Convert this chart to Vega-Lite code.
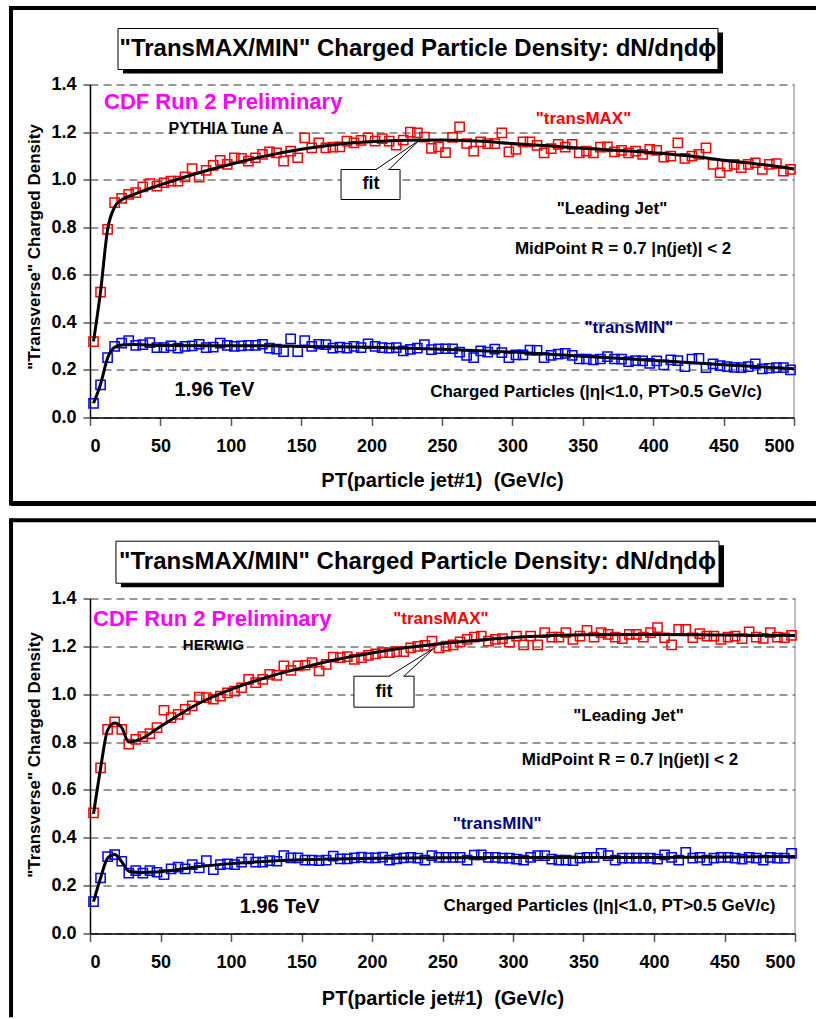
{
  "$schema": "https://vega.github.io/schema/vega-lite/v6.json",
  "autosize": {"type": "pad"},
  "padding": {"left": 8, "top": 4.5, "right": 0, "bottom": 0},
  "background": "white",
  "config": {
    "view": {"stroke": null},
    "font": "Liberation Sans",
    "text": {"font": "Liberation Sans", "fontWeight": "bold"},
    "axis": {
      "labelFont": "Liberation Sans", "labelFontWeight": "bold", "labelFontSize": 18, "labelColor": "black",
      "titleFont": "Liberation Sans", "titleFontWeight": "bold", "titleColor": "black",
      "domainColor": "black", "domainWidth": 1.5, "tickColor": "#555", "tickWidth": 1.5
    }
  },
  "datasets": {
    "pythia": [
      {"pt":2.5,"density":0.319,"series":"transMAX"},{"pt":7.5,"density":0.527,"series":"transMAX"},{"pt":12.5,"density":0.791,"series":"transMAX"},{"pt":17.5,"density":0.903,"series":"transMAX"},{"pt":22.5,"density":0.921,"series":"transMAX"},{"pt":27.5,"density":0.938,"series":"transMAX"},{"pt":32.5,"density":0.945,"series":"transMAX"},{"pt":37.5,"density":0.970,"series":"transMAX"},{"pt":42.5,"density":0.983,"series":"transMAX"},{"pt":47.5,"density":0.973,"series":"transMAX"},
      {"pt":52.5,"density":0.987,"series":"transMAX"},{"pt":57.5,"density":0.994,"series":"transMAX"},{"pt":62.5,"density":0.994,"series":"transMAX"},{"pt":67.5,"density":1.012,"series":"transMAX"},{"pt":72.5,"density":1.046,"series":"transMAX"},{"pt":77.5,"density":1.011,"series":"transMAX"},{"pt":82.5,"density":1.039,"series":"transMAX"},{"pt":87.5,"density":1.060,"series":"transMAX"},{"pt":92.5,"density":1.081,"series":"transMAX"},{"pt":97.5,"density":1.064,"series":"transMAX"},
      {"pt":102.5,"density":1.092,"series":"transMAX"},{"pt":107.5,"density":1.089,"series":"transMAX"},{"pt":112.5,"density":1.078,"series":"transMAX"},{"pt":117.5,"density":1.092,"series":"transMAX"},{"pt":122.5,"density":1.106,"series":"transMAX"},{"pt":127.5,"density":1.117,"series":"transMAX"},{"pt":132.5,"density":1.113,"series":"transMAX"},{"pt":137.5,"density":1.078,"series":"transMAX"},{"pt":142.5,"density":1.120,"series":"transMAX"},{"pt":147.5,"density":1.092,"series":"transMAX"},
      {"pt":152.5,"density":1.176,"series":"transMAX"},{"pt":157.5,"density":1.134,"series":"transMAX"},{"pt":162.5,"density":1.155,"series":"transMAX"},{"pt":167.5,"density":1.134,"series":"transMAX"},{"pt":172.5,"density":1.137,"series":"transMAX"},{"pt":177.5,"density":1.138,"series":"transMAX"},{"pt":182.5,"density":1.162,"series":"transMAX"},{"pt":187.5,"density":1.155,"series":"transMAX"},{"pt":192.5,"density":1.165,"series":"transMAX"},{"pt":197.5,"density":1.176,"series":"transMAX"},
      {"pt":202.5,"density":1.162,"series":"transMAX"},{"pt":207.5,"density":1.172,"series":"transMAX"},{"pt":212.5,"density":1.162,"series":"transMAX"},{"pt":217.5,"density":1.145,"series":"transMAX"},{"pt":222.5,"density":1.166,"series":"transMAX"},{"pt":227.5,"density":1.200,"series":"transMAX"},{"pt":232.5,"density":1.197,"series":"transMAX"},{"pt":237.5,"density":1.179,"series":"transMAX"},{"pt":242.5,"density":1.131,"series":"transMAX"},{"pt":247.5,"density":1.138,"series":"transMAX"},
      {"pt":252.5,"density":1.114,"series":"transMAX"},{"pt":257.5,"density":1.178,"series":"transMAX"},{"pt":262.5,"density":1.222,"series":"transMAX"},{"pt":267.5,"density":1.152,"series":"transMAX"},{"pt":272.5,"density":1.120,"series":"transMAX"},{"pt":277.5,"density":1.159,"series":"transMAX"},{"pt":282.5,"density":1.151,"series":"transMAX"},{"pt":287.5,"density":1.151,"series":"transMAX"},{"pt":292.5,"density":1.197,"series":"transMAX"},{"pt":297.5,"density":1.117,"series":"transMAX"},
      {"pt":302.5,"density":1.127,"series":"transMAX"},{"pt":307.5,"density":1.159,"series":"transMAX"},{"pt":312.5,"density":1.159,"series":"transMAX"},{"pt":317.5,"density":1.144,"series":"transMAX"},{"pt":322.5,"density":1.113,"series":"transMAX"},{"pt":327.5,"density":1.130,"series":"transMAX"},{"pt":332.5,"density":1.148,"series":"transMAX"},{"pt":337.5,"density":1.137,"series":"transMAX"},{"pt":342.5,"density":1.148,"series":"transMAX"},{"pt":347.5,"density":1.113,"series":"transMAX"},
      {"pt":352.5,"density":1.120,"series":"transMAX"},{"pt":357.5,"density":1.113,"series":"transMAX"},{"pt":362.5,"density":1.137,"series":"transMAX"},{"pt":367.5,"density":1.138,"series":"transMAX"},{"pt":372.5,"density":1.117,"series":"transMAX"},{"pt":377.5,"density":1.123,"series":"transMAX"},{"pt":382.5,"density":1.113,"series":"transMAX"},{"pt":387.5,"density":1.120,"series":"transMAX"},{"pt":392.5,"density":1.106,"series":"transMAX"},{"pt":397.5,"density":1.127,"series":"transMAX"},
      {"pt":402.5,"density":1.123,"series":"transMAX"},{"pt":407.5,"density":1.095,"series":"transMAX"},{"pt":412.5,"density":1.099,"series":"transMAX"},{"pt":417.5,"density":1.155,"series":"transMAX"},{"pt":422.5,"density":1.089,"series":"transMAX"},{"pt":427.5,"density":1.099,"series":"transMAX"},{"pt":432.5,"density":1.106,"series":"transMAX"},{"pt":437.5,"density":1.134,"series":"transMAX"},{"pt":442.5,"density":1.064,"series":"transMAX"},{"pt":447.5,"density":1.029,"series":"transMAX"},
      {"pt":452.5,"density":1.057,"series":"transMAX"},{"pt":457.5,"density":1.064,"series":"transMAX"},{"pt":462.5,"density":1.050,"series":"transMAX"},{"pt":467.5,"density":1.064,"series":"transMAX"},{"pt":472.5,"density":1.071,"series":"transMAX"},{"pt":477.5,"density":1.043,"series":"transMAX"},{"pt":482.5,"density":1.064,"series":"transMAX"},{"pt":487.5,"density":1.067,"series":"transMAX"},{"pt":492.5,"density":1.036,"series":"transMAX"},{"pt":497.5,"density":1.043,"series":"transMAX"},

      {"pt":2.5,"density":0.059,"series":"transMIN"},{"pt":7.5,"density":0.137,"series":"transMIN"},{"pt":12.5,"density":0.252,"series":"transMIN"},{"pt":17.5,"density":0.299,"series":"transMIN"},{"pt":22.5,"density":0.313,"series":"transMIN"},{"pt":27.5,"density":0.323,"series":"transMIN"},{"pt":32.5,"density":0.303,"series":"transMIN"},{"pt":37.5,"density":0.306,"series":"transMIN"},{"pt":42.5,"density":0.315,"series":"transMIN"},{"pt":47.5,"density":0.294,"series":"transMIN"},
      {"pt":52.5,"density":0.294,"series":"transMIN"},{"pt":57.5,"density":0.301,"series":"transMIN"},{"pt":62.5,"density":0.292,"series":"transMIN"},{"pt":67.5,"density":0.299,"series":"transMIN"},{"pt":72.5,"density":0.301,"series":"transMIN"},{"pt":77.5,"density":0.308,"series":"transMIN"},{"pt":82.5,"density":0.294,"series":"transMIN"},{"pt":87.5,"density":0.296,"series":"transMIN"},{"pt":92.5,"density":0.313,"series":"transMIN"},{"pt":97.5,"density":0.303,"series":"transMIN"},
      {"pt":102.5,"density":0.299,"series":"transMIN"},{"pt":107.5,"density":0.301,"series":"transMIN"},{"pt":112.5,"density":0.303,"series":"transMIN"},{"pt":117.5,"density":0.303,"series":"transMIN"},{"pt":122.5,"density":0.308,"series":"transMIN"},{"pt":127.5,"density":0.292,"series":"transMIN"},{"pt":132.5,"density":0.287,"series":"transMIN"},{"pt":137.5,"density":0.277,"series":"transMIN"},{"pt":142.5,"density":0.331,"series":"transMIN"},{"pt":147.5,"density":0.277,"series":"transMIN"},
      {"pt":152.5,"density":0.323,"series":"transMIN"},{"pt":157.5,"density":0.299,"series":"transMIN"},{"pt":162.5,"density":0.308,"series":"transMIN"},{"pt":167.5,"density":0.306,"series":"transMIN"},{"pt":172.5,"density":0.292,"series":"transMIN"},{"pt":177.5,"density":0.296,"series":"transMIN"},{"pt":182.5,"density":0.292,"series":"transMIN"},{"pt":187.5,"density":0.299,"series":"transMIN"},{"pt":192.5,"density":0.294,"series":"transMIN"},{"pt":197.5,"density":0.310,"series":"transMIN"},
      {"pt":202.5,"density":0.299,"series":"transMIN"},{"pt":207.5,"density":0.294,"series":"transMIN"},{"pt":212.5,"density":0.292,"series":"transMIN"},{"pt":217.5,"density":0.294,"series":"transMIN"},{"pt":222.5,"density":0.280,"series":"transMIN"},{"pt":227.5,"density":0.286,"series":"transMIN"},{"pt":232.5,"density":0.292,"series":"transMIN"},{"pt":237.5,"density":0.306,"series":"transMIN"},{"pt":242.5,"density":0.285,"series":"transMIN"},{"pt":247.5,"density":0.289,"series":"transMIN"},
      {"pt":252.5,"density":0.289,"series":"transMIN"},{"pt":257.5,"density":0.289,"series":"transMIN"},{"pt":262.5,"density":0.275,"series":"transMIN"},{"pt":267.5,"density":0.261,"series":"transMIN"},{"pt":272.5,"density":0.252,"series":"transMIN"},{"pt":277.5,"density":0.280,"series":"transMIN"},{"pt":282.5,"density":0.275,"series":"transMIN"},{"pt":287.5,"density":0.287,"series":"transMIN"},{"pt":292.5,"density":0.273,"series":"transMIN"},{"pt":297.5,"density":0.252,"series":"transMIN"},
      {"pt":302.5,"density":0.263,"series":"transMIN"},{"pt":307.5,"density":0.263,"series":"transMIN"},{"pt":312.5,"density":0.283,"series":"transMIN"},{"pt":317.5,"density":0.282,"series":"transMIN"},{"pt":322.5,"density":0.252,"series":"transMIN"},{"pt":327.5,"density":0.261,"series":"transMIN"},{"pt":332.5,"density":0.266,"series":"transMIN"},{"pt":337.5,"density":0.270,"series":"transMIN"},{"pt":342.5,"density":0.261,"series":"transMIN"},{"pt":347.5,"density":0.246,"series":"transMIN"},
      {"pt":352.5,"density":0.246,"series":"transMIN"},{"pt":357.5,"density":0.242,"series":"transMIN"},{"pt":362.5,"density":0.246,"series":"transMIN"},{"pt":367.5,"density":0.256,"series":"transMIN"},{"pt":372.5,"density":0.246,"series":"transMIN"},{"pt":377.5,"density":0.245,"series":"transMIN"},{"pt":382.5,"density":0.235,"series":"transMIN"},{"pt":387.5,"density":0.239,"series":"transMIN"},{"pt":392.5,"density":0.238,"series":"transMIN"},{"pt":397.5,"density":0.228,"series":"transMIN"},
      {"pt":402.5,"density":0.238,"series":"transMIN"},{"pt":407.5,"density":0.221,"series":"transMIN"},{"pt":412.5,"density":0.242,"series":"transMIN"},{"pt":417.5,"density":0.239,"series":"transMIN"},{"pt":422.5,"density":0.214,"series":"transMIN"},{"pt":427.5,"density":0.246,"series":"transMIN"},{"pt":432.5,"density":0.249,"series":"transMIN"},{"pt":437.5,"density":0.210,"series":"transMIN"},{"pt":442.5,"density":0.225,"series":"transMIN"},{"pt":447.5,"density":0.218,"series":"transMIN"},
      {"pt":452.5,"density":0.214,"series":"transMIN"},{"pt":457.5,"density":0.211,"series":"transMIN"},{"pt":462.5,"density":0.210,"series":"transMIN"},{"pt":467.5,"density":0.214,"series":"transMIN"},{"pt":472.5,"density":0.225,"series":"transMIN"},{"pt":477.5,"density":0.204,"series":"transMIN"},{"pt":482.5,"density":0.207,"series":"transMIN"},{"pt":487.5,"density":0.210,"series":"transMIN"},{"pt":492.5,"density":0.210,"series":"transMIN"},{"pt":497.5,"density":0.200,"series":"transMIN"}
    ],
    "pythiaFit": [
      {"pt":2.5,"density":0.32,"series":"transMAX"},{"pt":7.5,"density":0.53,"series":"transMAX"},{"pt":12.5,"density":0.79,"series":"transMAX"},{"pt":17.5,"density":0.885,"series":"transMAX"},{"pt":22.5,"density":0.915,"series":"transMAX"},{"pt":30,"density":0.935,"series":"transMAX"},{"pt":40,"density":0.958,"series":"transMAX"},{"pt":50,"density":0.978,"series":"transMAX"},{"pt":75,"density":1.025,"series":"transMAX"},{"pt":100,"density":1.065,"series":"transMAX"},{"pt":125,"density":1.1,"series":"transMAX"},{"pt":150,"density":1.128,"series":"transMAX"},{"pt":175,"density":1.148,"series":"transMAX"},{"pt":200,"density":1.16,"series":"transMAX"},{"pt":225,"density":1.166,"series":"transMAX"},{"pt":250,"density":1.167,"series":"transMAX"},{"pt":275,"density":1.162,"series":"transMAX"},{"pt":300,"density":1.152,"series":"transMAX"},{"pt":325,"density":1.142,"series":"transMAX"},{"pt":350,"density":1.132,"series":"transMAX"},{"pt":375,"density":1.123,"series":"transMAX"},{"pt":400,"density":1.113,"series":"transMAX"},{"pt":425,"density":1.1,"series":"transMAX"},{"pt":450,"density":1.082,"series":"transMAX"},{"pt":475,"density":1.065,"series":"transMAX"},{"pt":500,"density":1.045,"series":"transMAX"},
      {"pt":2.5,"density":0.06,"series":"transMIN"},{"pt":7.5,"density":0.14,"series":"transMIN"},{"pt":12.5,"density":0.25,"series":"transMIN"},{"pt":17.5,"density":0.295,"series":"transMIN"},{"pt":22.5,"density":0.305,"series":"transMIN"},{"pt":30,"density":0.307,"series":"transMIN"},{"pt":50,"density":0.303,"series":"transMIN"},{"pt":100,"density":0.302,"series":"transMIN"},{"pt":125,"density":0.302,"series":"transMIN"},{"pt":150,"density":0.299,"series":"transMIN"},{"pt":200,"density":0.295,"series":"transMIN"},{"pt":250,"density":0.287,"series":"transMIN"},{"pt":300,"density":0.275,"series":"transMIN"},{"pt":350,"density":0.258,"series":"transMIN"},{"pt":400,"density":0.24,"series":"transMIN"},{"pt":450,"density":0.222,"series":"transMIN"},{"pt":500,"density":0.205,"series":"transMIN"}
    ],
    "herwig": [
      {"pt":2.5,"density":0.504,"series":"transMAX"},{"pt":7.5,"density":0.692,"series":"transMAX"},{"pt":12.5,"density":0.853,"series":"transMAX"},{"pt":17.5,"density":0.884,"series":"transMAX"},{"pt":22.5,"density":0.853,"series":"transMAX"},{"pt":27.5,"density":0.791,"series":"transMAX"},{"pt":32.5,"density":0.811,"series":"transMAX"},{"pt":37.5,"density":0.823,"series":"transMAX"},{"pt":42.5,"density":0.835,"series":"transMAX"},{"pt":47.5,"density":0.860,"series":"transMAX"},
      {"pt":52.5,"density":0.933,"series":"transMAX"},{"pt":57.5,"density":0.902,"series":"transMAX"},{"pt":62.5,"density":0.916,"series":"transMAX"},{"pt":67.5,"density":0.937,"series":"transMAX"},{"pt":72.5,"density":0.951,"series":"transMAX"},{"pt":77.5,"density":0.988,"series":"transMAX"},{"pt":82.5,"density":0.986,"series":"transMAX"},{"pt":87.5,"density":0.979,"series":"transMAX"},{"pt":92.5,"density":0.992,"series":"transMAX"},{"pt":97.5,"density":1.006,"series":"transMAX"},
      {"pt":102.5,"density":1.013,"series":"transMAX"},{"pt":107.5,"density":1.027,"series":"transMAX"},{"pt":112.5,"density":1.062,"series":"transMAX"},{"pt":117.5,"density":1.048,"series":"transMAX"},{"pt":122.5,"density":1.062,"series":"transMAX"},{"pt":127.5,"density":1.083,"series":"transMAX"},{"pt":132.5,"density":1.079,"series":"transMAX"},{"pt":137.5,"density":1.118,"series":"transMAX"},{"pt":142.5,"density":1.100,"series":"transMAX"},{"pt":147.5,"density":1.118,"series":"transMAX"},
      {"pt":152.5,"density":1.121,"series":"transMAX"},{"pt":157.5,"density":1.132,"series":"transMAX"},{"pt":162.5,"density":1.097,"series":"transMAX"},{"pt":167.5,"density":1.125,"series":"transMAX"},{"pt":172.5,"density":1.155,"series":"transMAX"},{"pt":177.5,"density":1.153,"series":"transMAX"},{"pt":182.5,"density":1.157,"series":"transMAX"},{"pt":187.5,"density":1.146,"series":"transMAX"},{"pt":192.5,"density":1.153,"series":"transMAX"},{"pt":197.5,"density":1.162,"series":"transMAX"},
      {"pt":202.5,"density":1.169,"series":"transMAX"},{"pt":207.5,"density":1.174,"series":"transMAX"},{"pt":212.5,"density":1.174,"series":"transMAX"},{"pt":217.5,"density":1.178,"series":"transMAX"},{"pt":222.5,"density":1.178,"series":"transMAX"},{"pt":227.5,"density":1.194,"series":"transMAX"},{"pt":232.5,"density":1.200,"series":"transMAX"},{"pt":237.5,"density":1.204,"series":"transMAX"},{"pt":242.5,"density":1.222,"series":"transMAX"},{"pt":247.5,"density":1.194,"series":"transMAX"},
      {"pt":252.5,"density":1.201,"series":"transMAX"},{"pt":257.5,"density":1.206,"series":"transMAX"},{"pt":262.5,"density":1.219,"series":"transMAX"},{"pt":267.5,"density":1.229,"series":"transMAX"},{"pt":272.5,"density":1.239,"series":"transMAX"},{"pt":277.5,"density":1.243,"series":"transMAX"},{"pt":282.5,"density":1.222,"series":"transMAX"},{"pt":287.5,"density":1.229,"series":"transMAX"},{"pt":292.5,"density":1.232,"series":"transMAX"},{"pt":297.5,"density":1.218,"series":"transMAX"},
      {"pt":302.5,"density":1.243,"series":"transMAX"},{"pt":307.5,"density":1.206,"series":"transMAX"},{"pt":312.5,"density":1.243,"series":"transMAX"},{"pt":317.5,"density":1.206,"series":"transMAX"},{"pt":322.5,"density":1.257,"series":"transMAX"},{"pt":327.5,"density":1.239,"series":"transMAX"},{"pt":332.5,"density":1.239,"series":"transMAX"},{"pt":337.5,"density":1.257,"series":"transMAX"},{"pt":342.5,"density":1.229,"series":"transMAX"},{"pt":347.5,"density":1.243,"series":"transMAX"},
      {"pt":352.5,"density":1.267,"series":"transMAX"},{"pt":357.5,"density":1.239,"series":"transMAX"},{"pt":362.5,"density":1.257,"series":"transMAX"},{"pt":367.5,"density":1.250,"series":"transMAX"},{"pt":372.5,"density":1.239,"series":"transMAX"},{"pt":377.5,"density":1.232,"series":"transMAX"},{"pt":382.5,"density":1.250,"series":"transMAX"},{"pt":387.5,"density":1.250,"series":"transMAX"},{"pt":392.5,"density":1.239,"series":"transMAX"},{"pt":397.5,"density":1.257,"series":"transMAX"},
      {"pt":402.5,"density":1.278,"series":"transMAX"},{"pt":407.5,"density":1.236,"series":"transMAX"},{"pt":412.5,"density":1.206,"series":"transMAX"},{"pt":417.5,"density":1.271,"series":"transMAX"},{"pt":422.5,"density":1.271,"series":"transMAX"},{"pt":427.5,"density":1.236,"series":"transMAX"},{"pt":432.5,"density":1.253,"series":"transMAX"},{"pt":437.5,"density":1.243,"series":"transMAX"},{"pt":442.5,"density":1.243,"series":"transMAX"},{"pt":447.5,"density":1.229,"series":"transMAX"},
      {"pt":452.5,"density":1.239,"series":"transMAX"},{"pt":457.5,"density":1.243,"series":"transMAX"},{"pt":462.5,"density":1.232,"series":"transMAX"},{"pt":467.5,"density":1.261,"series":"transMAX"},{"pt":472.5,"density":1.239,"series":"transMAX"},{"pt":477.5,"density":1.233,"series":"transMAX"},{"pt":482.5,"density":1.257,"series":"transMAX"},{"pt":487.5,"density":1.239,"series":"transMAX"},{"pt":492.5,"density":1.236,"series":"transMAX"},{"pt":497.5,"density":1.246,"series":"transMAX"},

      {"pt":2.5,"density":0.133,"series":"transMIN"},{"pt":7.5,"density":0.232,"series":"transMIN"},{"pt":12.5,"density":0.321,"series":"transMIN"},{"pt":17.5,"density":0.330,"series":"transMIN"},{"pt":22.5,"density":0.302,"series":"transMIN"},{"pt":27.5,"density":0.252,"series":"transMIN"},{"pt":32.5,"density":0.263,"series":"transMIN"},{"pt":37.5,"density":0.252,"series":"transMIN"},{"pt":42.5,"density":0.263,"series":"transMIN"},{"pt":47.5,"density":0.256,"series":"transMIN"},
      {"pt":52.5,"density":0.246,"series":"transMIN"},{"pt":57.5,"density":0.270,"series":"transMIN"},{"pt":62.5,"density":0.277,"series":"transMIN"},{"pt":67.5,"density":0.270,"series":"transMIN"},{"pt":72.5,"density":0.288,"series":"transMIN"},{"pt":77.5,"density":0.274,"series":"transMIN"},{"pt":82.5,"density":0.305,"series":"transMIN"},{"pt":87.5,"density":0.267,"series":"transMIN"},{"pt":92.5,"density":0.288,"series":"transMIN"},{"pt":97.5,"density":0.291,"series":"transMIN"},
      {"pt":102.5,"density":0.288,"series":"transMIN"},{"pt":107.5,"density":0.298,"series":"transMIN"},{"pt":112.5,"density":0.312,"series":"transMIN"},{"pt":117.5,"density":0.298,"series":"transMIN"},{"pt":122.5,"density":0.298,"series":"transMIN"},{"pt":127.5,"density":0.305,"series":"transMIN"},{"pt":132.5,"density":0.302,"series":"transMIN"},{"pt":137.5,"density":0.326,"series":"transMIN"},{"pt":142.5,"density":0.316,"series":"transMIN"},{"pt":147.5,"density":0.316,"series":"transMIN"},
      {"pt":152.5,"density":0.307,"series":"transMIN"},{"pt":157.5,"density":0.307,"series":"transMIN"},{"pt":162.5,"density":0.305,"series":"transMIN"},{"pt":167.5,"density":0.307,"series":"transMIN"},{"pt":172.5,"density":0.323,"series":"transMIN"},{"pt":177.5,"density":0.312,"series":"transMIN"},{"pt":182.5,"density":0.312,"series":"transMIN"},{"pt":187.5,"density":0.316,"series":"transMIN"},{"pt":192.5,"density":0.319,"series":"transMIN"},{"pt":197.5,"density":0.316,"series":"transMIN"},
      {"pt":202.5,"density":0.316,"series":"transMIN"},{"pt":207.5,"density":0.319,"series":"transMIN"},{"pt":212.5,"density":0.307,"series":"transMIN"},{"pt":217.5,"density":0.312,"series":"transMIN"},{"pt":222.5,"density":0.316,"series":"transMIN"},{"pt":227.5,"density":0.318,"series":"transMIN"},{"pt":232.5,"density":0.315,"series":"transMIN"},{"pt":237.5,"density":0.307,"series":"transMIN"},{"pt":242.5,"density":0.325,"series":"transMIN"},{"pt":247.5,"density":0.318,"series":"transMIN"},
      {"pt":252.5,"density":0.318,"series":"transMIN"},{"pt":257.5,"density":0.318,"series":"transMIN"},{"pt":262.5,"density":0.318,"series":"transMIN"},{"pt":267.5,"density":0.307,"series":"transMIN"},{"pt":272.5,"density":0.328,"series":"transMIN"},{"pt":277.5,"density":0.329,"series":"transMIN"},{"pt":282.5,"density":0.318,"series":"transMIN"},{"pt":287.5,"density":0.318,"series":"transMIN"},{"pt":292.5,"density":0.315,"series":"transMIN"},{"pt":297.5,"density":0.315,"series":"transMIN"},
      {"pt":302.5,"density":0.311,"series":"transMIN"},{"pt":307.5,"density":0.307,"series":"transMIN"},{"pt":312.5,"density":0.318,"series":"transMIN"},{"pt":317.5,"density":0.325,"series":"transMIN"},{"pt":322.5,"density":0.325,"series":"transMIN"},{"pt":327.5,"density":0.311,"series":"transMIN"},{"pt":332.5,"density":0.307,"series":"transMIN"},{"pt":337.5,"density":0.307,"series":"transMIN"},{"pt":342.5,"density":0.304,"series":"transMIN"},{"pt":347.5,"density":0.315,"series":"transMIN"},
      {"pt":352.5,"density":0.318,"series":"transMIN"},{"pt":357.5,"density":0.318,"series":"transMIN"},{"pt":362.5,"density":0.335,"series":"transMIN"},{"pt":367.5,"density":0.325,"series":"transMIN"},{"pt":372.5,"density":0.307,"series":"transMIN"},{"pt":377.5,"density":0.315,"series":"transMIN"},{"pt":382.5,"density":0.315,"series":"transMIN"},{"pt":387.5,"density":0.315,"series":"transMIN"},{"pt":392.5,"density":0.315,"series":"transMIN"},{"pt":397.5,"density":0.315,"series":"transMIN"},
      {"pt":402.5,"density":0.311,"series":"transMIN"},{"pt":407.5,"density":0.329,"series":"transMIN"},{"pt":412.5,"density":0.318,"series":"transMIN"},{"pt":417.5,"density":0.307,"series":"transMIN"},{"pt":422.5,"density":0.339,"series":"transMIN"},{"pt":427.5,"density":0.315,"series":"transMIN"},{"pt":432.5,"density":0.318,"series":"transMIN"},{"pt":437.5,"density":0.307,"series":"transMIN"},{"pt":442.5,"density":0.315,"series":"transMIN"},{"pt":447.5,"density":0.318,"series":"transMIN"},
      {"pt":452.5,"density":0.318,"series":"transMIN"},{"pt":457.5,"density":0.315,"series":"transMIN"},{"pt":462.5,"density":0.311,"series":"transMIN"},{"pt":467.5,"density":0.318,"series":"transMIN"},{"pt":472.5,"density":0.315,"series":"transMIN"},{"pt":477.5,"density":0.307,"series":"transMIN"},{"pt":482.5,"density":0.318,"series":"transMIN"},{"pt":487.5,"density":0.315,"series":"transMIN"},{"pt":492.5,"density":0.315,"series":"transMIN"},{"pt":497.5,"density":0.335,"series":"transMIN"}
    ],
    "herwigFit": [
      {"pt":2.5,"density":0.5,"series":"transMAX"},{"pt":7.5,"density":0.69,"series":"transMAX"},{"pt":12.5,"density":0.85,"series":"transMAX"},{"pt":17.5,"density":0.88,"series":"transMAX"},{"pt":22.5,"density":0.86,"series":"transMAX"},{"pt":27.5,"density":0.8,"series":"transMAX"},{"pt":35,"density":0.81,"series":"transMAX"},{"pt":50,"density":0.865,"series":"transMAX"},{"pt":75,"density":0.955,"series":"transMAX"},{"pt":100,"density":1.02,"series":"transMAX"},{"pt":125,"density":1.07,"series":"transMAX"},{"pt":150,"density":1.11,"series":"transMAX"},{"pt":175,"density":1.145,"series":"transMAX"},{"pt":200,"density":1.172,"series":"transMAX"},{"pt":225,"density":1.195,"series":"transMAX"},{"pt":250,"density":1.212,"series":"transMAX"},{"pt":275,"density":1.226,"series":"transMAX"},{"pt":300,"density":1.237,"series":"transMAX"},{"pt":325,"density":1.244,"series":"transMAX"},{"pt":350,"density":1.248,"series":"transMAX"},{"pt":400,"density":1.25,"series":"transMAX"},{"pt":450,"density":1.247,"series":"transMAX"},{"pt":500,"density":1.245,"series":"transMAX"},
      {"pt":2.5,"density":0.133,"series":"transMIN"},{"pt":7.5,"density":0.232,"series":"transMIN"},{"pt":12.5,"density":0.315,"series":"transMIN"},{"pt":17.5,"density":0.33,"series":"transMIN"},{"pt":22.5,"density":0.3,"series":"transMIN"},{"pt":27.5,"density":0.26,"series":"transMIN"},{"pt":35,"density":0.255,"series":"transMIN"},{"pt":50,"density":0.258,"series":"transMIN"},{"pt":75,"density":0.278,"series":"transMIN"},{"pt":100,"density":0.292,"series":"transMIN"},{"pt":150,"density":0.308,"series":"transMIN"},{"pt":200,"density":0.314,"series":"transMIN"},{"pt":250,"density":0.317,"series":"transMIN"},{"pt":300,"density":0.318,"series":"transMIN"},{"pt":400,"density":0.318,"series":"transMIN"},{"pt":500,"density":0.322,"series":"transMIN"}
    ]
  },
  "spacing": 181,
  "bounds": "flush",
  "vconcat": [
    {
      "width": 704,
      "height": 333,
      "layer": [
        {
          "data": {"values": [{}]},
          "layer": [
            {"mark": {"type": "rule", "stroke": "black", "strokeWidth": 4, "strokeCap": "butt"},
             "encoding": {"x": {"datum": -56.1}, "x2": {"datum": 515.6}, "y": {"datum": 1.7213}}},
            {"mark": {"type": "rule", "stroke": "black", "strokeWidth": 5, "strokeCap": "butt"},
             "encoding": {"x": {"datum": -56.1}, "x2": {"datum": 515.6}, "y": {"datum": -0.3616}}},
            {"mark": {"type": "rule", "stroke": "black", "strokeWidth": 4, "strokeCap": "square"},
             "encoding": {"x": {"datum": -56.1}, "y": {"datum": 1.7213}, "y2": {"datum": -0.3616}}},
            {"mark": {"type": "rule", "stroke": "#808080", "strokeWidth": 1},
             "encoding": {"x": {"datum": 500}, "y": {"datum": 0}, "y2": {"datum": 1.4}}},
            {"mark": {"type": "rect", "fill": "black"},
             "encoding": {"x": {"datum": 23.45}, "x2": {"datum": 449.55}, "y": {"datum": 1.6186}, "y2": {"datum": 1.4462}}},
            {"mark": {"type": "rect", "fill": "white", "stroke": "black", "strokeWidth": 1},
             "encoding": {"x": {"datum": 19.9}, "x2": {"datum": 446.0}, "y": {"datum": 1.6354}, "y2": {"datum": 1.463}}},
            {"mark": {"type": "text", "text": "\"TransMAX/MIN\" Charged Particle Density: dN/dηdϕ", "fontSize": 24, "align": "center", "baseline": "middle", "color": "black"},
             "encoding": {"x": {"datum": 232.9}, "y": {"datum": 1.5492}}}
          ]
        },
        {
          "data": {"name": "pythia"},
          "mark": {"type": "point", "shape": "square", "filled": false, "size": 85, "strokeWidth": 1.5, "opacity": 1},
          "encoding": {
            "x": {"field": "pt", "type": "quantitative", "scale": {"domain": [0, 500], "nice": false},
                  "axis": {"title": "PT(particle jet#1)\u00a0 (GeV/c)", "values": [0,50,100,150,200,250,300,350,400,450,500], "grid": false, "tickSize": 8, "labelPadding": 12, "titleFontSize": 20, "titleBaseline": "alphabetic", "titleY": 69, "titleX": 352}},
            "y": {"field": "density", "type": "quantitative", "scale": {"domain": [0, 1.4], "nice": false},
                  "axis": {"title": "\"Transverse\" Charged Density", "values": [0,0.2,0.4,0.6,0.8,1.0,1.2,1.4], "format": ".1f", "grid": true, "gridColor": "#333", "gridDash": [8, 5], "gridWidth": 1, "tickSize": 7, "labelPadding": 7, "titleFontSize": 17, "titleAngle": -90, "titleAlign": "center", "titleBaseline": "alphabetic", "titleX": -51, "titleY": 162}},
            "color": {"field": "series", "type": "nominal", "scale": {"domain": ["transMAX", "transMIN"], "range": ["#FF0000", "#0000FF"]}, "legend": null}
          }
        },
        {
          "data": {"name": "pythiaFit"},
          "mark": {"type": "line", "color": "black", "strokeWidth": 3, "interpolate": "monotone"},
          "encoding": {
            "x": {"field": "pt", "type": "quantitative"},
            "y": {"field": "density", "type": "quantitative"},
            "detail": {"field": "series", "type": "nominal"}
          }
        },
        {
          "data": {"values": [{}]},
          "layer": [
            {"mark": {"type": "text", "text": "CDF Run 2 Preliminary", "fontSize": 22, "color": "#FF00FF", "align": "left", "baseline": "alphabetic"},
             "encoding": {"x": {"datum": 9.94}, "y": {"datum": 1.2949}}},
            {"mark": {"type": "text", "text": "PYTHIA Tune A", "fontSize": 16, "color": "black", "align": "center", "baseline": "middle"},
             "encoding": {"x": {"datum": 96.6}, "y": {"datum": 1.215}}},
            {"mark": {"type": "text", "text": "\"transMAX\"", "fontSize": 17, "color": "#FF0000", "align": "center", "baseline": "middle"},
             "encoding": {"x": {"datum": 350.5}, "y": {"datum": 1.257}}},
            {"mark": {"type": "text", "text": "\"Leading Jet\"", "fontSize": 17, "color": "black", "align": "center", "baseline": "middle"},
             "encoding": {"x": {"datum": 370.7}, "y": {"datum": 0.8745}}},
            {"mark": {"type": "text", "text": "MidPoint R = 0.7 |η(jet)| < 2", "fontSize": 17, "color": "black", "align": "center", "baseline": "middle"},
             "encoding": {"x": {"datum": 378.6}, "y": {"datum": 0.7105}}},
            {"mark": {"type": "text", "text": "\"transMIN\"", "fontSize": 17, "color": "#000080", "align": "center", "baseline": "middle"},
             "encoding": {"x": {"datum": 382.8}, "y": {"datum": 0.3742}}},
            {"mark": {"type": "text", "text": "1.96 TeV", "fontSize": 20, "color": "black", "align": "center", "baseline": "middle"},
             "encoding": {"x": {"datum": 88.4}, "y": {"datum": 0.1177}}},
            {"mark": {"type": "text", "text": "Charged Particles (|η|<1.0, PT>0.5 GeV/c)", "fontSize": 17, "color": "black", "align": "center", "baseline": "middle"},
             "encoding": {"x": {"datum": 359.4}, "y": {"datum": 0.1093}}},
            {"mark": {"type": "rect", "fill": "white", "stroke": "black", "strokeWidth": 1},
             "encoding": {"x": {"datum": 178.3}, "x2": {"datum": 220.2}, "y": {"datum": 1.0426}, "y2": {"datum": 0.9165}}},
            {"mark": {"type": "rule", "stroke": "white", "strokeWidth": 2},
             "encoding": {"x": {"datum": 203.6}, "x2": {"datum": 211.9}, "y": {"datum": 1.0426}}},
            {"mark": {"type": "rule", "stroke": "black", "strokeWidth": 1},
             "encoding": {"x": {"datum": 203.1}, "x2": {"datum": 233.7}, "y": {"datum": 1.0426}, "y2": {"datum": 1.1646}}},
            {"mark": {"type": "rule", "stroke": "black", "strokeWidth": 1},
             "encoding": {"x": {"datum": 212.4}, "x2": {"datum": 233.7}, "y": {"datum": 1.0426}, "y2": {"datum": 1.1646}}},
            {"mark": {"type": "text", "text": "fit", "fontSize": 18, "color": "black", "align": "center", "baseline": "middle"},
             "encoding": {"x": {"datum": 199.6}, "y": {"datum": 0.9796}}}
          ]
        }
      ]
    },
    {
      "width": 705,
      "height": 335,
      "layer": [
        {
          "data": {"values": [{}]},
          "layer": [
            {"mark": {"type": "rule", "stroke": "black", "strokeWidth": 4, "strokeCap": "butt"},
             "encoding": {"x": {"datum": -56.0}, "x2": {"datum": 514.9}, "y": {"datum": 1.727}}},
            {"mark": {"type": "rule", "stroke": "black", "strokeWidth": 4, "strokeCap": "butt"},
             "encoding": {"x": {"datum": -56.0}, "y": {"datum": 1.735}, "y2": {"datum": -0.35}}},
            {"mark": {"type": "rule", "stroke": "#808080", "strokeWidth": 1},
             "encoding": {"x": {"datum": 500}, "y": {"datum": 0}, "y2": {"datum": 1.4}}},
            {"mark": {"type": "rect", "fill": "black"},
             "encoding": {"x": {"datum": 21.95}, "x2": {"datum": 449.65}, "y": {"datum": 1.6227}, "y2": {"datum": 1.4472}}},
            {"mark": {"type": "rect", "fill": "white", "stroke": "black", "strokeWidth": 1},
             "encoding": {"x": {"datum": 18.4}, "x2": {"datum": 446.1}, "y": {"datum": 1.6394}, "y2": {"datum": 1.4639}}},
            {"mark": {"type": "text", "text": "\"TransMAX/MIN\" Charged Particle Density: dN/dηdϕ", "fontSize": 24, "align": "center", "baseline": "middle", "color": "black"},
             "encoding": {"x": {"datum": 232.3}, "y": {"datum": 1.5517}}}
          ]
        },
        {
          "data": {"name": "herwig"},
          "mark": {"type": "point", "shape": "square", "filled": false, "size": 85, "strokeWidth": 1.5, "opacity": 1},
          "encoding": {
            "x": {"field": "pt", "type": "quantitative", "scale": {"domain": [0, 500], "nice": false},
                  "axis": {"title": "PT(particle jet#1)\u00a0 (GeV/c)", "values": [0,50,100,150,200,250,300,350,400,450,500], "grid": false, "tickSize": 8, "labelPadding": 12, "titleFontSize": 20, "titleBaseline": "alphabetic", "titleY": 71, "titleX": 352.5}},
            "y": {"field": "density", "type": "quantitative", "scale": {"domain": [0, 1.4], "nice": false},
                  "axis": {"title": "\"Transverse\" Charged Density", "values": [0,0.2,0.4,0.6,0.8,1.0,1.2,1.4], "format": ".1f", "grid": true, "gridColor": "#333", "gridDash": [8, 5], "gridWidth": 1, "tickSize": 7, "labelPadding": 7, "titleFontSize": 17, "titleAngle": -90, "titleAlign": "center", "titleBaseline": "alphabetic", "titleX": -51, "titleY": 156}},
            "color": {"field": "series", "type": "nominal", "scale": {"domain": ["transMAX", "transMIN"], "range": ["#FF0000", "#0000FF"]}, "legend": null}
          }
        },
        {
          "data": {"name": "herwigFit"},
          "mark": {"type": "line", "color": "black", "strokeWidth": 3, "interpolate": "monotone"},
          "encoding": {
            "x": {"field": "pt", "type": "quantitative"},
            "y": {"field": "density", "type": "quantitative"},
            "detail": {"field": "series", "type": "nominal"}
          }
        },
        {
          "data": {"values": [{}]},
          "layer": [
            {"mark": {"type": "text", "text": "CDF Run 2 Preliminary", "fontSize": 22, "color": "#FF00FF", "align": "left", "baseline": "alphabetic"},
             "encoding": {"x": {"datum": 2.13}, "y": {"datum": 1.2842}}},
            {"mark": {"type": "text", "text": "HERWIG", "fontSize": 15, "color": "black", "align": "center", "baseline": "middle"},
             "encoding": {"x": {"datum": 87.6}, "y": {"datum": 1.2048}}},
            {"mark": {"type": "text", "text": "\"transMAX\"", "fontSize": 17, "color": "#FF0000", "align": "center", "baseline": "middle"},
             "encoding": {"x": {"datum": 248.9}, "y": {"datum": 1.3135}}},
            {"mark": {"type": "text", "text": "\"Leading Jet\"", "fontSize": 17, "color": "black", "align": "center", "baseline": "middle"},
             "encoding": {"x": {"datum": 381.9}, "y": {"datum": 0.9081}}},
            {"mark": {"type": "text", "text": "MidPoint R = 0.7 |η(jet)| < 2", "fontSize": 17, "color": "black", "align": "center", "baseline": "middle"},
             "encoding": {"x": {"datum": 383.0}, "y": {"datum": 0.7242}}},
            {"mark": {"type": "text", "text": "\"transMIN\"", "fontSize": 17, "color": "#000080", "align": "center", "baseline": "middle"},
             "encoding": {"x": {"datum": 288.7}, "y": {"datum": 0.458}}},
            {"mark": {"type": "text", "text": "1.96 TeV", "fontSize": 20, "color": "black", "align": "center", "baseline": "middle"},
             "encoding": {"x": {"datum": 134.5}, "y": {"datum": 0.1112}}},
            {"mark": {"type": "text", "text": "Charged Particles (|η|<1.0, PT>0.5 GeV/c)", "fontSize": 17, "color": "black", "align": "center", "baseline": "middle"},
             "encoding": {"x": {"datum": 368.4}, "y": {"datum": 0.1141}}},
            {"mark": {"type": "rect", "fill": "white", "stroke": "black", "strokeWidth": 1},
             "encoding": {"x": {"datum": 187.2}, "x2": {"datum": 229.8}, "y": {"datum": 1.0753}, "y2": {"datum": 0.9458}}},
            {"mark": {"type": "rule", "stroke": "white", "strokeWidth": 2},
             "encoding": {"x": {"datum": 212.6}, "x2": {"datum": 222.2}, "y": {"datum": 1.0753}}},
            {"mark": {"type": "rule", "stroke": "black", "strokeWidth": 1},
             "encoding": {"x": {"datum": 212.1}, "x2": {"datum": 244.0}, "y": {"datum": 1.0753}, "y2": {"datum": 1.1923}}},
            {"mark": {"type": "rule", "stroke": "black", "strokeWidth": 1},
             "encoding": {"x": {"datum": 222.7}, "x2": {"datum": 244.0}, "y": {"datum": 1.0753}, "y2": {"datum": 1.1923}}},
            {"mark": {"type": "text", "text": "fit", "fontSize": 18, "color": "black", "align": "center", "baseline": "middle"},
             "encoding": {"x": {"datum": 208.5}, "y": {"datum": 1.0105}}}
          ]
        }
      ]
    }
  ]
}
